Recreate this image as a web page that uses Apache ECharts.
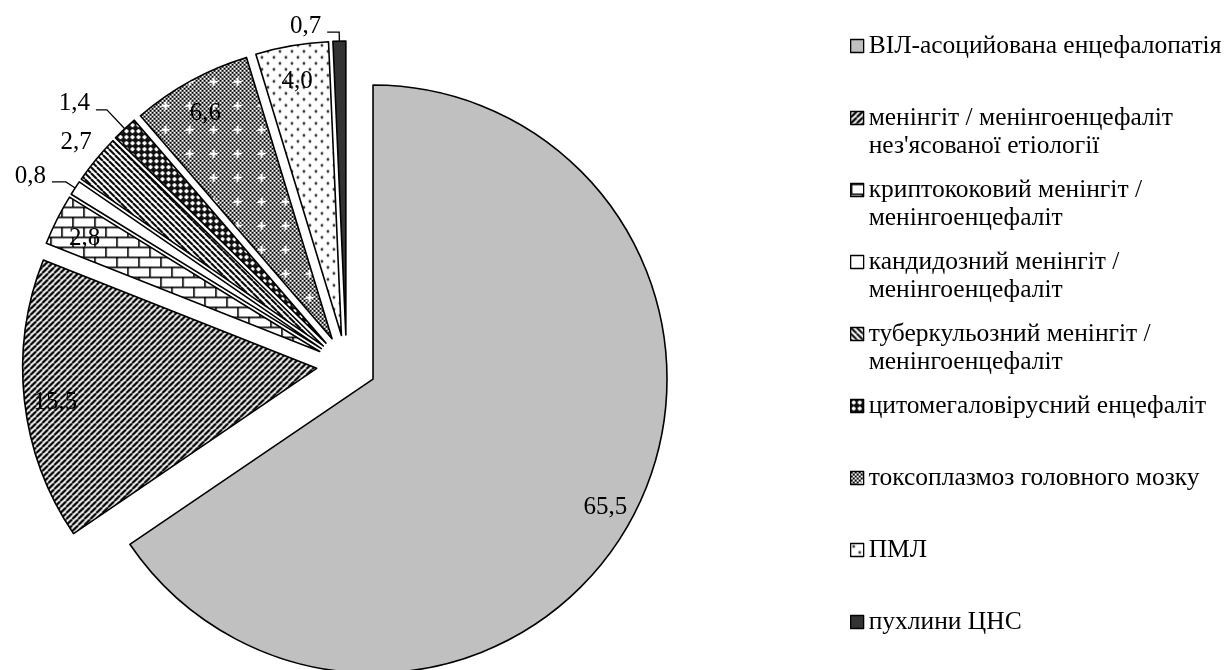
<!DOCTYPE html>
<html>
<head>
<meta charset="utf-8">
<script src="https://cdn.jsdelivr.net/npm/echarts@6/dist/echarts.min.js"></script>
<style>
  html, body { margin: 0; padding: 0; background: #fff; }
  #chart { width: 1226px; height: 670px; }
</style>
</head>
<body>
<div id="chart"></div>
<script>
// Structure of CNS lesions in HIV patients, %
const categories = [
  'ВІЛ-асоцийована енцефалопатія',
  "менінгіт / менінгоенцефаліт нез'ясованої етіології",
  'криптококовий менінгіт / менінгоенцефаліт',
  'кандидозний менінгіт / менінгоенцефаліт',
  'туберкульозний менінгіт / менінгоенцефаліт',
  'цитомегаловірусний енцефаліт',
  'токсоплазмоз головного мозку',
  'ПМЛ',
  'пухлини ЦНС'
];
const legendLines = [
  ['ВІЛ-асоцийована енцефалопатія'],
  ['менінгіт / менінгоенцефаліт', "нез'ясованої етіології"],
  ['криптококовий менінгіт /', 'менінгоенцефаліт'],
  ['кандидозний менінгіт /', 'менінгоенцефаліт'],
  ['туберкульозний менінгіт /', 'менінгоенцефаліт'],
  ['цитомегаловірусний енцефаліт'],
  ['токсоплазмоз головного мозку'],
  ['ПМЛ'],
  ['пухлини ЦНС']
];
const values = [65.5, 15.5, 2.8, 0.8, 2.7, 1.4, 6.6, 4.0, 0.7];

// where each value label sits: inside the slice, just beyond the rim, or on a leader line
const labelPlacement = ['inside', 'inside', 'inside', 'leader', 'beyond', 'leader', 'inside', 'inside', 'leader'];
const leaderLen  = [0, 0, 0, 11, 0, 26, 0, 0, 9];
const leaderLen2 = [0, 0, 0, 14, 0, 11, 0, 0, 12];

const FONT = 'Liberation Serif';
const LABEL_SIZE = 25;
const LEGEND_SIZE = 25.5;
const LINE_H = 28;

// ---- fill patterns -------------------------------------------------------
function tile(w, h, draw) {
  const c = document.createElement('canvas');
  c.width = w; c.height = h;
  const ctx = c.getContext('2d');
  ctx.fillStyle = '#fff';
  ctx.fillRect(0, 0, w, h);
  draw(ctx, w, h);
  return { image: c, repeat: 'repeat' };
}
function stripes(dir, width) {
  return tile(6, 6, (ctx) => {
    ctx.strokeStyle = '#000';
    ctx.lineWidth = width;
    for (const k of [-6, 0, 6]) {
      ctx.beginPath();
      if (dir > 0) { ctx.moveTo(k, 6); ctx.lineTo(k + 6, 0); }
      else { ctx.moveTo(k, 0); ctx.lineTo(k + 6, 6); }
      ctx.stroke();
    }
  });
}
const fills = [
  '#c0c0c0',
  stripes(1, 2.3),
  tile(22, 20, (ctx) => {           // brick
    ctx.fillStyle = '#000';
    ctx.fillRect(0, 0, 22, 1.6);
    ctx.fillRect(0, 10, 22, 1.6);
    ctx.fillRect(0, 0, 1.6, 10);
    ctx.fillRect(11, 10, 1.6, 10);
  }),
  '#ffffff',
  stripes(-1, 2.0),
  tile(6, 6, (ctx) => {             // dark with light crosses
    ctx.fillStyle = '#111';
    ctx.fillRect(0, 0, 6, 6);
    ctx.fillStyle = '#fff';
    ctx.fillRect(2, 1, 2, 4);
    ctx.fillRect(1, 2, 4, 2);
  }),
  tile(24, 24, (ctx) => {           // fine checker with sparkles
    ctx.fillStyle = '#000';
    for (let y = 0; y < 24; y += 2)
      for (let x = (y / 2) % 2 ? 2 : 0; x < 24; x += 4) ctx.fillRect(x, y, 2, 2);
    ctx.fillStyle = '#fff';
    ctx.fillRect(11, 8, 2, 8);
    ctx.fillRect(8, 11, 8, 2);
  }),
  tile(12, 12, (ctx) => {           // sparse dots
    ctx.fillStyle = '#333';
    for (const [x, y] of [[3, 3], [9, 9]]) {
      ctx.beginPath(); ctx.arc(x, y, 1.4, 0, Math.PI * 2); ctx.fill();
    }
  }),
  '#333333'
];

const num = (v) => v.toFixed(1).replace('.', ',');
const fmtPlain = (p) => num(p.value);
// a thin spacer line nudges the number up or down a few pixels around its anchor
const fmtLow  = (p) => '{s| }\n{v|' + num(p.value) + '}';
const fmtHigh = (p) => '{v|' + num(p.value) + '}\n{s| }';
const richText = {
  v: { color: '#000', fontFamily: FONT, fontSize: LABEL_SIZE, lineHeight: 30 },
  s: { fontSize: 4, lineHeight: 10 }
};
const richHigh = {
  v: richText.v,
  s: { fontSize: 4, lineHeight: 12 }
};

const CENTER = [346.5, 365];
const R = 294;
const EXPLODE = 30;

function baseSeries(radius, extra) {
  return Object.assign({
    type: 'pie',
    center: CENTER,
    radius: radius,
    startAngle: 90,
    clockwise: true,
    selectedMode: 'multiple',
    selectedOffset: EXPLODE,
    avoidLabelOverlap: false,
    animation: false,
    emphasis: { disabled: true },
    label: { show: false, formatter: fmtLow, rich: richText },
    labelLine: { show: false }
  }, extra);
}

// slices with outlines and patterns; leader-line labels
const sliceSeries = baseSeries(R, {
  select: { itemStyle: { borderColor: '#000', borderWidth: 1.6 } },
  data: values.map((v, i) => ({
    name: categories[i],
    value: v,
    selected: true,
    itemStyle: { color: fills[i], borderColor: '#000', borderWidth: 1.6 },
    label: {
      show: labelPlacement[i] === 'leader', position: 'outside', distanceToLabelLine: 6,
      formatter: fmtHigh, rich: richHigh
    },
    labelLine: {
      show: labelPlacement[i] === 'leader',
      length: leaderLen[i], length2: leaderLen2[i],
      smooth: false, minTurnAngle: 0, maxSurfaceAngle: 180,
      lineStyle: { color: '#000', width: 1.3 }
    }
  }))
});

// band near the rim: labels sitting inside each slice
const innerLabelSeries = baseSeries([226, R], {
  silent: true,
  legendHoverLink: false,
  data: values.map((v, i) => ({
    name: categories[i], value: v, selected: true,
    itemStyle: { color: 'rgba(0,0,0,0)', borderWidth: 0 },
    label: { show: labelPlacement[i] === 'inside', position: 'inside' }
  }))
});

// band around the rim: labels placed just beyond the slice without a line
const outerLabelSeries = baseSeries([290, 344], {
  silent: true,
  legendHoverLink: false,
  label: { show: false, formatter: fmtPlain, color: '#000', fontFamily: FONT, fontSize: LABEL_SIZE },
  data: values.map((v, i) => ({
    name: categories[i], value: v, selected: true,
    itemStyle: { color: 'rgba(0,0,0,0)', borderWidth: 0 },
    label: { show: labelPlacement[i] === 'beyond', position: 'inside' }
  }))
});

// every legend entry is three lines tall with its first text line in the middle,
// so the marker lines up with that first line and the entries are evenly spaced
function legendText(name) {
  const lines = legendLines[categories.indexOf(name)].slice();
  lines.unshift(' ');
  while (lines.length < 3) lines.push(' ');
  return lines.join('\n');
}

const chart = echarts.init(document.getElementById('chart'), null, { renderer: 'canvas' });
chart.setOption({
  backgroundColor: '#fff',
  animation: false,
  legend: {
    orient: 'vertical',
    left: 850,
    top: 4,
    padding: 0,
    itemWidth: 13,
    itemHeight: 13,
    itemGap: 72 - 3 * LINE_H,
    icon: 'rect',
    selectedMode: false,
    data: categories,
    itemStyle: { borderColor: '#000', borderWidth: 1.3 },
    formatter: legendText,
    textStyle: { color: '#000', fontFamily: FONT, fontSize: LEGEND_SIZE, lineHeight: LINE_H }
  },
  series: [sliceSeries, innerLabelSeries, outerLabelSeries]
});
</script>
</body>
</html>
